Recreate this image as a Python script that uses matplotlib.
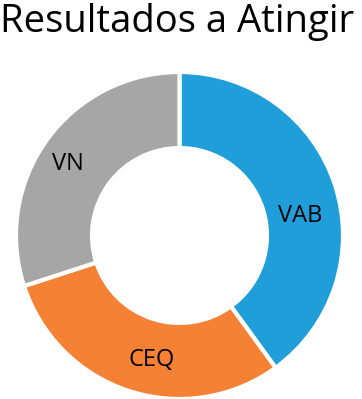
import matplotlib
matplotlib.use('Agg')
import matplotlib.pyplot as plt

labels = ['VAB', 'CEQ', 'VN']
values = [40, 30, 30]
colors = ['#1F9ED9', '#F58134', '#A6A6A6']

plt.rcParams['font.family'] = ['Open Sans', 'DejaVu Sans']

W, H = 362, 399
fig = plt.figure(figsize=(W / 100, H / 100), dpi=100)
ax = fig.add_axes([16 / W, 0, 327 / W, 327 / H])

wedges, texts = ax.pie(
    values, labels=labels, colors=colors, startangle=90, counterclock=False,
    radius=1, labeldistance=0.77,
    wedgeprops=dict(width=0.465, edgecolor='white', linewidth=3),
    textprops=dict(fontsize=17, color='black', ha='center', va='center'),
)
# label spots as placed in the original
label_xy = [(0.74, 0.12), (-0.17, -0.76), (-0.68, 0.44)]
for t, xy in zip(texts, label_xy):
    t.set_position(xy)

ax.set_xlim(-1, 1)
ax.set_ylim(-1, 1)
ax.set_aspect('auto')
ax.axis('off')

fig.text(0, 1 - 32 / H, 'Resultados a Atingir', fontsize=27.5,
         ha='left', va='baseline')

fig.savefig('out.png', dpi=100)
